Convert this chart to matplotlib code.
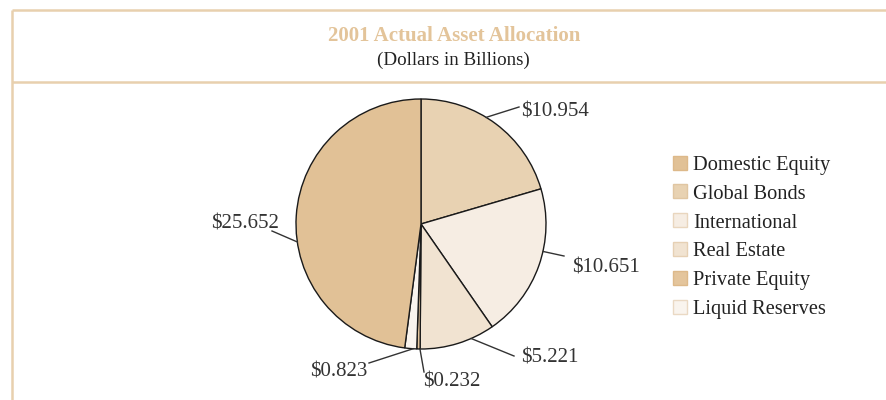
import numpy as np
import matplotlib.pyplot as plt
from matplotlib.patches import Rectangle

# Data (legend order)
labels = ['Domestic Equity', 'Global Bonds', 'International', 'Real Estate',
          'Private Equity', 'Liquid Reserves']
values = [25.652, 10.954, 10.651, 5.221, 0.232, 0.823]
colors = ['#E1C196', '#E8D2B2', '#F6EDE3', '#F1E3D1', '#E4C59C', '#F9F4EE']
edge_cols = ['#DDB98A', '#E0C6A2', '#E9D6BE', '#E6D0B4', '#DDB98A', '#EAD9C4']

# order of the wedges, clockwise from the top
pie_order = [1, 2, 3, 4, 5, 0]
# value label placement (pixels, y from top, text baseline)
label_pos = {1: (521, 116), 2: (572, 273), 3: (521, 363),
             4: (423, 386), 5: (367, 376), 0: (279, 228)}
label_ha = {1: 'left', 2: 'left', 3: 'left', 4: 'left', 5: 'right', 0: 'right'}
line_end = {1: (519, 107), 2: (564, 256), 3: (514, 356),
            4: (424, 372), 5: (369, 363), 0: (272, 231)}
# shift of the leader line start from the wedge middle (degrees)
anchor_shift = {1: -5.4, 2: -6.8, 3: -6.5, 4: -0.7, 5: -1.1, 0: -12}

W, H = 886, 400
serif = ['Liberation Serif', 'DejaVu Serif']
text_col = '#333333'
frame_col = '#E8D0AE'

fig = plt.figure(figsize=(W / 100, H / 100), dpi=100)
ax = fig.add_axes([0, 0, 1, 1])
ax.set_xlim(0, W)
ax.set_ylim(H, 0)
ax.axis('off')

# frame
ax.plot([12.5, W], [9.5, 9.5], color=frame_col, lw=1.8, solid_capstyle='butt')
ax.plot([12.5, W], [81.5, 81.5], color=frame_col, lw=1.8, solid_capstyle='butt')
ax.plot([12.5, 12.5], [9.5, H], color=frame_col, lw=1.8, solid_capstyle='butt')

ax.text(454, 41, '2001 Actual Asset Allocation', ha='center', va='baseline',
        fontsize=15, fontweight='bold', color='#E3C49A', family=serif)
ax.text(453, 65, '(Dollars in Billions)', ha='center', va='baseline',
        fontsize=13.7, color='#222222', family=serif)

# pie (y axis inverted, so counterclock=True draws clockwise on screen)
cx, cy, r = 421, 224, 125
vals = [values[i] for i in pie_order]
wedges, _ = ax.pie(vals, colors=[colors[i] for i in pie_order], startangle=-90,
                   counterclock=True, center=(cx, cy), radius=r, frame=False,
                   wedgeprops=dict(edgecolor='#1a1a1a', linewidth=1.0))
ax.set_xlim(0, W)
ax.set_ylim(H, 0)
ax.set_aspect('equal')

# value labels with leader lines
for w, idx in zip(wedges, pie_order):
    mid = np.deg2rad((w.theta1 + w.theta2) / 2 + anchor_shift[idx])
    ex, ey = cx + r * np.cos(mid), cy + r * np.sin(mid)
    lx, ly = line_end[idx]
    ax.plot([ex, lx], [ey, ly], color='#333333', lw=1.0)
    tx, ty = label_pos[idx]
    ax.text(tx, ty, '$%.3f' % values[idx], ha=label_ha[idx], va='baseline',
            fontsize=15, color=text_col, family=serif)

# legend
for k, lab in enumerate(labels):
    y = 162.5 + k * 28.8
    ax.add_patch(Rectangle((673, y - 7), 14, 14, facecolor=colors[k],
                           edgecolor=edge_cols[k], lw=1.0))
    ax.text(693, y + 7.5, lab, ha='left', va='baseline', fontsize=14.7,
            color='#222222', family=serif)

fig.savefig('out.png', dpi=100)
